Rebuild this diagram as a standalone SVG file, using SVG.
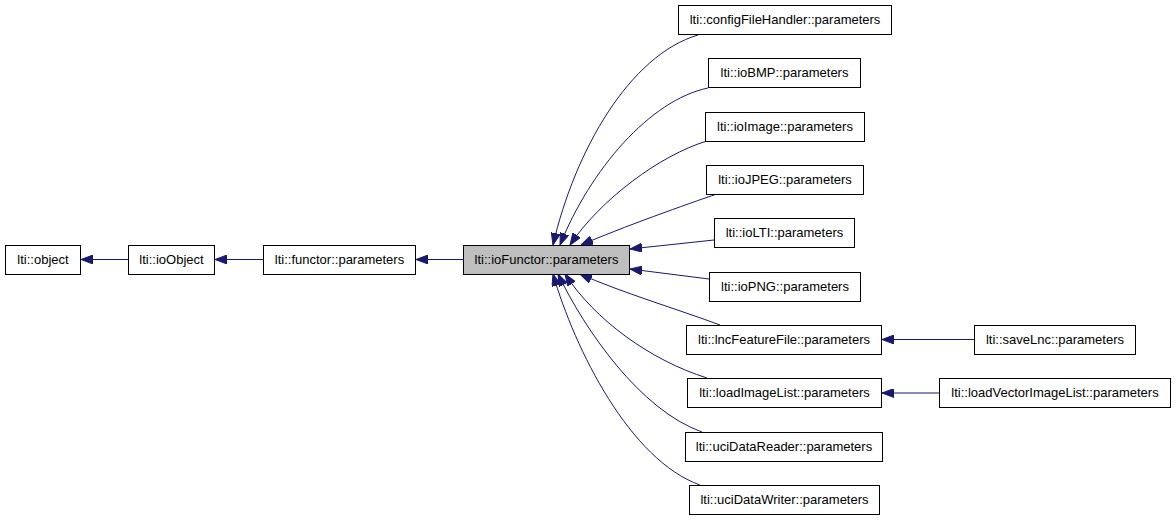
<svg xmlns="http://www.w3.org/2000/svg" width="1176" height="520" viewBox="0 0 1176 520">
<style>
.n rect{fill:#fff;stroke:#000;stroke-width:1}
.n text{font-family:"Liberation Sans",Arial,sans-serif;font-size:13px;fill:#000;text-anchor:middle}
#e path{fill:none;stroke:#191970;stroke-width:1;marker-end:url(#ah)}
</style>
<defs>
<marker id="ah" markerUnits="userSpaceOnUse" markerWidth="12" markerHeight="9" refX="12" refY="4.5" orient="auto">
<path d="M0,0 L12,4.5 L0,9 z" fill="#191970" stroke="#191970"/>
</marker>
</defs>
<rect width="1176" height="520" fill="#fff"/>
<g id="e">
<path d="M128,259.5 L81,259.5"/>
<path d="M263,259.5 L215,259.5"/>
<path d="M463,259.5 L416,259.5"/>
<path d="M698,35 C630,55 575,150 553,245"/>
<path d="M708,88 C650,100 590,170 560,245"/>
<path d="M707,141 C660,155 600,200 570,245"/>
<path d="M717,194 C690,203 620,228 581,245"/>
<path d="M714,240 L630,249"/>
<path d="M709,279 L630,269"/>
<path d="M720,325 C680,310 620,292 580,274"/>
<path d="M707,378 C650,360 595,320 565,274"/>
<path d="M702,432 C640,410 585,330 558,274"/>
<path d="M700,485 C630,460 575,350 553,274"/>
<path d="M974,339.5 L882,339.5"/>
<path d="M939,393 L882,393"/>
</g>
<g id="object" class="n"><rect x="5.5" y="245.5" width="75" height="29"/><text x="43" y="264">lti::object</text></g>
<g id="ioObject" class="n"><rect x="128.5" y="245.5" width="86" height="29"/><text x="171.5" y="264">lti::ioObject</text></g>
<g id="functorParameters" class="n"><rect x="263.5" y="245.5" width="152" height="29"/><text x="339.5" y="264">lti::functor::parameters</text></g>
<g id="ioFunctorParameters" class="n"><rect x="463.5" y="245.5" width="166" height="29" style="fill:#bfbfbf"/><text x="546.5" y="264">lti::ioFunctor::parameters</text></g>
<g id="configFileHandler" class="n"><rect x="678.5" y="5.5" width="213" height="29"/><text x="785" y="24">lti::configFileHandler::parameters</text></g>
<g id="ioBMP" class="n"><rect x="708.5" y="58.5" width="152" height="29"/><text x="784.5" y="77">lti::ioBMP::parameters</text></g>
<g id="ioImage" class="n"><rect x="705.5" y="112.5" width="159" height="29"/><text x="785" y="131">lti::ioImage::parameters</text></g>
<g id="ioJPEG" class="n"><rect x="706.5" y="165.5" width="157" height="29"/><text x="785" y="184">lti::ioJPEG::parameters</text></g>
<g id="ioLTI" class="n"><rect x="714.5" y="218.5" width="140" height="29"/><text x="784.5" y="237">lti::ioLTI::parameters</text></g>
<g id="ioPNG" class="n"><rect x="709.5" y="272.5" width="151" height="29"/><text x="785" y="291">lti::ioPNG::parameters</text></g>
<g id="lncFeatureFile" class="n"><rect x="686.5" y="325.5" width="195" height="29"/><text x="784" y="344">lti::lncFeatureFile::parameters</text></g>
<g id="loadImageList" class="n"><rect x="687.5" y="378.5" width="194" height="29"/><text x="784.5" y="397">lti::loadImageList::parameters</text></g>
<g id="uciDataReader" class="n"><rect x="685.5" y="432.5" width="197" height="29"/><text x="784" y="451">lti::uciDataReader::parameters</text></g>
<g id="uciDataWriter" class="n"><rect x="689.5" y="485.5" width="190" height="29"/><text x="784.5" y="504">lti::uciDataWriter::parameters</text></g>
<g id="saveLnc" class="n"><rect x="974.5" y="325.5" width="161" height="29"/><text x="1055" y="344">lti::saveLnc::parameters</text></g>
<g id="loadVectorImageList" class="n"><rect x="939.5" y="378.5" width="231" height="29"/><text x="1055" y="397">lti::loadVectorImageList::parameters</text></g>
</svg>
